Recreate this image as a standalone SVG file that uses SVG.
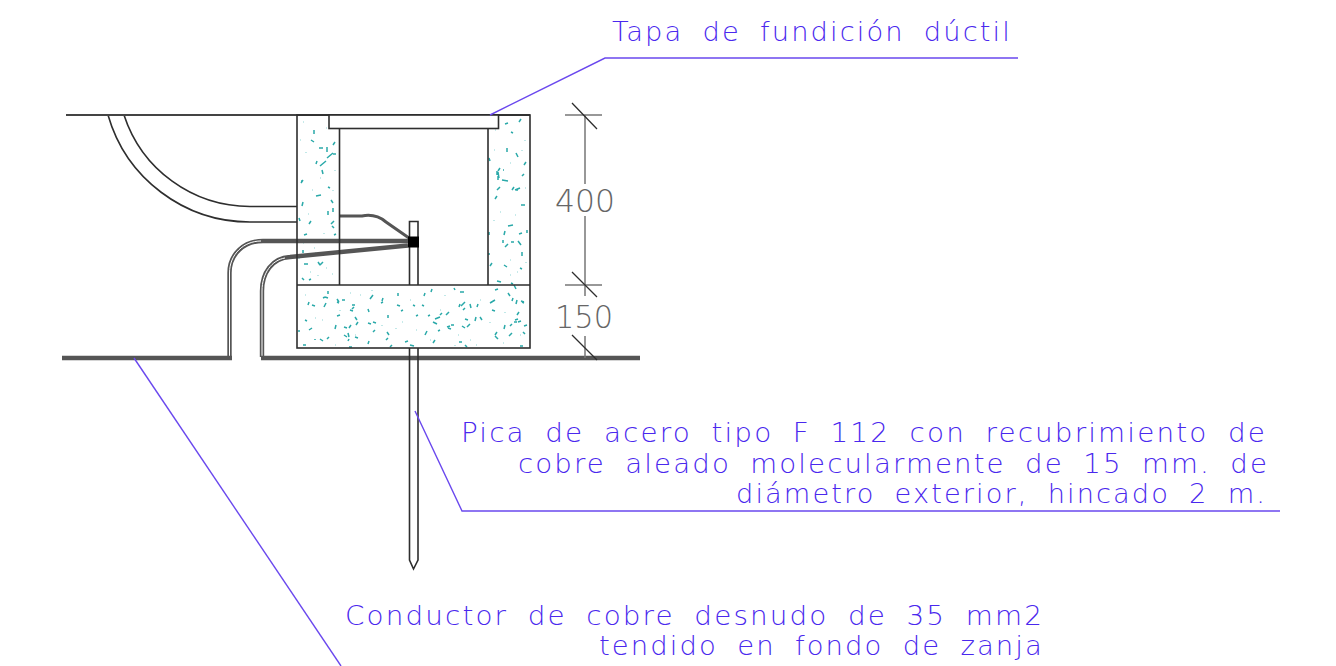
<svg xmlns="http://www.w3.org/2000/svg" width="1336" height="666" viewBox="0 0 1336 666">
<style>
.bg{fill:#fff}
.l{fill:none;stroke:#2e2e2e;stroke-width:1.6}
.g{fill:none;stroke:#444;stroke-width:2}
.t{fill:none;stroke:#555;stroke-width:4.4}
.w{fill:none;stroke:#fff;stroke-width:1}
.d{fill:none;stroke:#777;stroke-width:1.5}
.sp{fill:none;stroke:#2aa9a9;stroke-width:1.5}
.dots{fill:none;stroke:#8fd6d6;stroke-width:1.1}
.b{fill:none;stroke:#6a48ee;stroke-width:1.4}
.x{font-family:"DejaVu Sans","Liberation Sans",sans-serif;font-weight:200;font-size:26px;letter-spacing:2px;word-spacing:8px;fill:#4a28ee}
.n{font-family:"DejaVu Sans","Liberation Sans",sans-serif;font-weight:200;font-size:32px;fill:#666}
</style>
<rect class="bg" width="1336" height="666"/>
<g id="concrete">
<path class="sp" d="M314 130v4M311 140l3 2M319 148h4M327 147v5M333 145l2-3M327 158l6-5M320 166l6-5M333 154h3M317 161l-1 3M322 170l1 4M301 183l2-3M302 181h-1M328 187l2 1M316 196l5-1M303 202l-1 4M331 200l2 3M333 208v4M328 211v4M331 224l3-3M332 226l2 2M309 224l2-3M304 235l3-1M303 250v3M323 262l-3 3M318 262l2 3M304 264h4M302 278l2 2M309 280l2-1M299 218l1 3M336 234l-2 1M314 255l2-2"/>
<path class="sp" d="M505 124l3-1M519 122l2-3M511 132l2 1M507 148v4M516 153l2 4M526 162l-2 3M498 171l2-3M497 171v4M498 176v4M503 170h1M498 172l1 6M502 180l6 1M514 187l-2 3M515 190l5-2M497 190l3-3M516 190h2M495 199l2-3M521 205h4M508 226l5-1M504 235l1-4M519 234l3-1M527 230v3M489 232v3M503 240v3M505 247l3-3M511 242h3M518 241l3 4M522 252v4M488 254h2M504 265l3 2M490 266l2-3M520 268l2 1M497 281l4 1M511 283l2 1M522 176l2-2M489 158l1 3"/>
<path class="sp" d="M309 302l-1 3M323 298l2-1M337 299l2 3M328 291v3M312 305l3 1M326 303l-2 4M345 300l-3 0M350 310l3 1M351 325l-2 3M347 328l-3-1M358 322l-2 3M368 309l1 3M373 295l-3 4M383 302l-2 1M400 306l-3-1M388 315v3M376 323l-3-1M375 330l-2 2M389 335l-2-3M425 293l-1 3M422 305l2 1M418 315l-2 1M435 319l5-2M446 315l3-3M454 325h-3M448 328l3 1M465 302l-4 4M470 304l1 4M476 317l-1 4M495 300l-5 3M498 289l-3 1M460 292h4M455 290l-1-2M514 285l2 4M517 300l-1 4M524 302l-3-1M514 322h3M505 325l-1 4M515 320l3-1M519 312l-2 3M512 333l-3 3M527 325l-3 1M329 337l-2 2M309 330l3-2M349 347h3M315 340v-1M303 345h3M348 341l1-2M368 344l1-3M392 345l-2 2M410 345l4 1M435 340l-2 3M459 342h3M465 345l2 2M495 336l3 3M520 346l3 0M305 320l2 1M299 330v2M462 326l3 2M425 335l2-4M336 325l-1 4M347 337l-3-2M470 324l-3 3M440 330l-2 1M340 315l-3 1M355 305h-3M325 297l3 1M337 302l2 1M352 309l2-2M355 317l2 3M368 323l3 1M320 339l3 2M348 333l1 4M355 337l3 1M388 338l-2 2M405 342l3-1M428 316l2-1M433 322l4 2M442 313l-2 2M447 327l3-1M465 319l3 1M480 317l2 3M497 332l-2 3M510 326l2-2M518 322l3-1M523 332l2 2M522 302l2 1M513 298l-1 3M508 293l2 3M492 310l3 1M478 304l-1 3M463 310l2-2M460 304l-1 3M432 289l-1 3M413 305l2 1M403 310l-2 1M398 293v3M383 298l-1 3"/>
<path class="dots" d="M303 122h1M326 128h1M306 152v1M320 178h1M333 190v1M308 214h1M324 233v1M303 243h1M314 248h1M310 272h1M332 274h1M318 275v1M495 130h1M525 140v1M510 163h1M494 220v1M515 215h1M510 260h1M526 262v1M510 275h1M305 295h1M340 310v1M360 295h1M382 325v1M410 300h1M430 340h1M445 295v1M470 340h1M480 300h1M505 312v1M322 320h1M355 335h1M396 328v1M416 330h1M440 310h1M520 335h1M315 318h1M335 345h1M455 345v1M476 345h1M300 140h1M335 170v1M312 190h1M299 258v1M326 268h1M494 150h1M522 150v1M500 212h1M525 188h1M517 272h1M372 290v1M350 293h1M402 322h1M458 335h1M490 322v1M503 343h1"/>
</g>
<g id="pipes">
<path class="l" d="M108 115A147.700 147.700 0 0 0 250 222H297"/>
<path class="l" d="M124 115A132.500 132.500 0 0 0 250 206.500H297"/>
</g>
<g id="cables">
<path class="t" d="M229.500 357V273C229.500 254 244 241 263 241H408" />
<path class="t" d="M262 357V291C262 273 272 258 290 257L408 245.500" />
<path class="w" d="M229.500 357V273C229.500 254 244 241 261 241" />
<path class="w" d="M262 357V291C262 273 272 260 285 258" />
<path class="t" style="stroke-width:3" d="M339.500 216H362C372 214 380 217 386 222L409 238" />
</g>
<g id="chamber">
<path class="g" d="M66 115H530"/>
<rect class="l" x="297" y="115" width="233" height="233"/>
<path class="l" d="M339.500 128.500V285M488 128.500V285M297 285H530"/>
<rect id="tapa" x="329" y="115" width="169.500" height="13.500" fill="#fff" stroke="#2e2e2e" stroke-width="1.600"/>
</g>
<g id="ground">
<path class="t" d="M62 358H232M261 358H640"/>
</g>
<g id="pica">
<path class="l" d="M409.500 285V221.500H418V285M409.500 348V560L413.500 569L418 560V348"/>
<rect x="408" y="236.500" width="11" height="11" fill="#000"/>
</g>
<g id="dimensions">
<path class="d" d="M565 115H602M565 285H602M585 115V184M585 216V285M585 285V296M585 336V358"/>
<path class="l" d="M572 103L597 129M572 272L597 297M572 335L597 360" style="stroke-width:1.300"/>
<text class="n" x="555" y="212" textLength="60" lengthAdjust="spacingAndGlyphs">400</text>
<text class="n" x="555" y="328" textLength="58" lengthAdjust="spacingAndGlyphs">150</text>
</g>
<g id="leaders">
<path class="b" d="M490 115L605 58H1018"/>
<path class="b" d="M415 411L462 511H1280"/>
<path class="b" d="M134 358L341 666"/>
</g>
<g id="labels">
<text class="x" x="612" y="41" textLength="400" lengthAdjust="spacingAndGlyphs">Tapa de fundición dúctil</text>
<text class="x" x="461" y="442" textLength="806" lengthAdjust="spacingAndGlyphs">Pica de acero tipo F 112 con recubrimiento de</text>
<text class="x" x="518" y="473" textLength="751" lengthAdjust="spacingAndGlyphs">cobre aleado molecularmente de 15 mm. de</text>
<text class="x" x="736" y="503" textLength="531" lengthAdjust="spacingAndGlyphs">diámetro exterior, hincado 2 m.</text>
<text class="x" x="345" y="625" textLength="699" lengthAdjust="spacingAndGlyphs">Conductor de cobre desnudo de 35 mm2</text>
<text class="x" x="599" y="655" textLength="445" lengthAdjust="spacingAndGlyphs">tendido en fondo de zanja</text>
</g>
</svg>
